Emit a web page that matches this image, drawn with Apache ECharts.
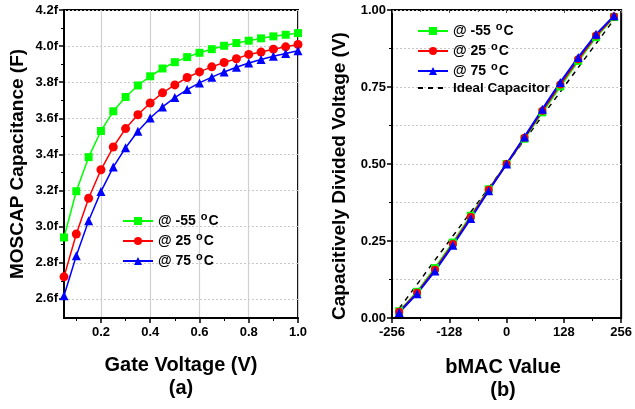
<!DOCTYPE html>
<html>
<head>
<meta charset="utf-8">
<script src="https://cdn.jsdelivr.net/npm/echarts@6/dist/echarts.min.js"></script>
<style>html,body{margin:0;padding:0;background:#fff;}#c{width:635px;height:409px;}</style>
</head>
<body>
<div id="c"></div>
<script>
// ---- Data: panel (a) MOSCAP capacitance vs gate voltage ----
const gateV = [0.05,0.10,0.15,0.20,0.25,0.30,0.35,0.40,0.45,0.50,0.55,0.60,0.65,0.70,0.75,0.80,0.85,0.90,0.95,1.00];
const capM55 = [2.94,3.196,3.385,3.530,3.639,3.718,3.782,3.833,3.876,3.911,3.939,3.963,3.983,4.002,4.017,4.030,4.043,4.054,4.063,4.072];
const cap25  = [2.722,2.959,3.157,3.315,3.441,3.543,3.620,3.685,3.741,3.785,3.826,3.857,3.885,3.909,3.930,3.954,3.967,3.983,3.996,4.009];
const cap75  = [2.617,2.839,3.033,3.194,3.330,3.437,3.528,3.602,3.663,3.715,3.759,3.796,3.828,3.857,3.883,3.906,3.926,3.944,3.959,3.974];
const capTicks = [2.6,2.8,3.0,3.2,3.4,3.6,3.8,4.0,4.2];
const capMinor = [2.7,2.9,3.1,3.3,3.5,3.7,3.9,4.1];
const gateTicks = [0.2,0.4,0.6,0.8,1.0];
const gateMinor = [0.1,0.3,0.5,0.7,0.9];

// ---- Data: panel (b) capacitively divided voltage vs bMAC value ----
const bmac   = [-240,-200,-160,-120,-80,-40,0,40,80,120,160,200,240];
const volM55 = [0.022,0.085,0.162,0.245,0.332,0.418,0.500,0.582,0.668,0.752,0.835,0.912,0.977];
const vol25  = [0.020,0.082,0.157,0.240,0.328,0.416,0.500,0.585,0.673,0.758,0.840,0.917,0.979];
const vol75  = [0.018,0.079,0.153,0.236,0.323,0.413,0.500,0.588,0.678,0.765,0.846,0.921,0.981];
const volIdeal = [0.031,0.109,0.188,0.266,0.344,0.422,0.500,0.578,0.656,0.734,0.813,0.891,0.969];

const legendNames = {
  aM55: '{t|@ -55 }{s|o}{t|C}', a25: '{t|@ 25 }{s|o}{t|C}', a75: '{t|@ 75 }{s|o}{t|C}',
  bM55: '{t|@ -55 }{s|o}{t|C}', b25: '{t|@ 25 }{s|o}{t|C}', b75: '{t|@ 75 }{s|o}{t|C}',
  bIdeal: '{u|Ideal Capacitor}'
};

const FONT = 'Liberation Sans, Arial, sans-serif';
const GREEN = '#00ff00', RED = '#ff0000', BLUE = '#0000ff';

function pair(xs, ys){ return xs.map((x,i)=>[x, ys[i]]); }

const labelStyle = { color:'#000', fontFamily: FONT, fontWeight:'bold', fontSize:13 };
const legendText = { color:'#000', fontFamily: FONT, fontWeight:'bold', fontSize:14,
  rich: {
    t: { fontFamily: FONT, fontWeight:'bold', fontSize:14, lineHeight:20, color:'#000' },
    s: { fontFamily: FONT, fontWeight:'bold', fontSize:11, lineHeight:4, verticalAlign:'top', color:'#000', padding:[0,1,0,1] },
    u: { fontFamily: FONT, fontWeight:'bold', fontSize:13.5, lineHeight:14, color:'#000' }
  } };

const chart = echarts.init(document.getElementById('c'), null, {renderer:'canvas'});

const option = {
  animation: false,
  backgroundColor: '#fff',
  grid: [
    { left: 64, top: 10, width: 234, height: 308, show: true, borderColor: '#000', borderWidth: 2, backgroundColor: 'transparent' },
    { left: 392, top: 10, width: 232, height: 308, show: true, borderColor: '#000', borderWidth: 2, backgroundColor: 'transparent' }
  ],
  xAxis: [
    { // (a) bottom, major
      type:'value', gridIndex:0, min:0.05, max:1.0, position:'bottom',
      axisLine:{ show:true, onZero:false, lineStyle:{ color:'#000', width:2 } },
      axisTick:{ show:true, length:5, lineStyle:{ color:'#000', width:1.5 }, customValues: gateTicks },
      axisLabel:{ ...labelStyle, margin:8, customValues: gateTicks, formatter: v => v.toFixed(1) },
      splitLine:{ show:true, lineStyle:{ color:'#d0d0d0', width:1.2, type:'solid' } }
    },
    { // (a) bottom, minor ticks
      type:'value', gridIndex:0, min:0.05, max:1.0, position:'bottom',
      axisLine:{ show:false, onZero:false },
      axisTick:{ show:true, length:3, lineStyle:{ color:'#000', width:1 }, customValues: gateMinor },
      axisLabel:{ show:false }, splitLine:{ show:false }
    },
    { // (b) bottom
      type:'value', gridIndex:1, min:-256, max:256, interval:128, position:'bottom',
      axisLine:{ show:true, onZero:false, lineStyle:{ color:'#000', width:2 } },
      axisTick:{ show:true, length:5, lineStyle:{ color:'#000', width:1.5 } },
      minorTick:{ show:true, splitNumber:2, length:3, lineStyle:{ color:'#000', width:1 } },
      axisLabel:{ ...labelStyle, margin:8, showMinLabel:true, showMaxLabel:true },
      splitLine:{ show:false }
    },
    { // (b) top mirror ticks
      type:'value', gridIndex:1, min:-256, max:256, interval:128, position:'top',
      axisLine:{ show:false, onZero:false },
      axisTick:{ show:true, inside:true, length:3, lineStyle:{ color:'#555', width:1 } },
      minorTick:{ show:true, splitNumber:2, length:2, lineStyle:{ color:'#555', width:1 } },
      axisLabel:{ show:false }, splitLine:{ show:false }
    }
  ],
  yAxis: [
    { // (a) left major
      type:'value', gridIndex:0, min:2.494, max:4.2, position:'left',
      axisLine:{ show:true, onZero:false, lineStyle:{ color:'#000', width:2 } },
      axisTick:{ show:true, length:5, lineStyle:{ color:'#000', width:1.5 }, customValues: capTicks },
      axisLabel:{ ...labelStyle, margin:6, customValues: capTicks, formatter: v => v.toFixed(1) + 'f' },
      splitLine:{ show:true, lineStyle:{ color:'#c8c8c8', width:1, type:[2,2] } }
    },
    { // (a) left minor
      type:'value', gridIndex:0, min:2.494, max:4.2, position:'left',
      axisLine:{ show:false, onZero:false },
      axisTick:{ show:true, length:3, lineStyle:{ color:'#000', width:1 }, customValues: capMinor },
      axisLabel:{ show:false }, splitLine:{ show:false }
    },
    { // (b) left
      type:'value', gridIndex:1, min:0, max:1, interval:0.25, position:'left',
      axisLine:{ show:true, onZero:false, lineStyle:{ color:'#000', width:2 } },
      axisTick:{ show:true, length:5, lineStyle:{ color:'#000', width:1.5 } },
      minorTick:{ show:true, splitNumber:2, length:3, lineStyle:{ color:'#000', width:1 } },
      axisLabel:{ ...labelStyle, margin:6, formatter: v => v.toFixed(2) },
      splitLine:{ show:true, lineStyle:{ color:'#c8c8c8', width:1, type:[2,2] } },
      minorSplitLine:{ show:true, lineStyle:{ color:'#c8c8c8', width:1, type:[2,2] } }
    }
  ],
  legend: [
    {
      left: 122, top: 211, padding: 0, orient:'vertical', itemGap: 3, itemWidth: 30, itemHeight: 10,
      data: ['aM55','a25','a75'], formatter: n => legendNames[n], textStyle: legendText
    },
    {
      left: 417, top: 21, padding: 0, orient:'vertical', itemGap: 3, itemWidth: 30, itemHeight: 10,
      data: ['bM55','b25','b75', { name:'bIdeal', itemStyle:{ opacity:0 } }],
      formatter: n => legendNames[n], textStyle: legendText
    }
  ],
  graphic: [
    { type:'text', x:18, y:164, rotation: Math.PI/2, style:{ text:'MOSCAP Capacitance (F)', font:'bold 19px ' + FONT, fill:'#000', textAlign:'center', textVerticalAlign:'middle' } },
    { type:'text', x:181, y:365, style:{ text:'Gate Voltage (V)', font:'bold 20px ' + FONT, fill:'#000', textAlign:'center', textVerticalAlign:'middle' } },
    { type:'text', x:181, y:388, style:{ text:'(a)', font:'bold 20px ' + FONT, fill:'#000', textAlign:'center', textVerticalAlign:'middle' } },
    { type:'text', x:340, y:176, rotation: Math.PI/2, style:{ text:'Capacitively Divided Voltage (V)', font:'bold 19px ' + FONT, fill:'#000', textAlign:'center', textVerticalAlign:'middle' } },
    { type:'text', x:503, y:367, style:{ text:'bMAC Value', font:'bold 20px ' + FONT, fill:'#000', textAlign:'center', textVerticalAlign:'middle' } },
    { type:'text', x:503, y:390, style:{ text:'(b)', font:'bold 20px ' + FONT, fill:'#000', textAlign:'center', textVerticalAlign:'middle' } }
  ],
  series: [
    { name:'aM55', type:'line', xAxisIndex:0, yAxisIndex:0, data: pair(gateV, capM55), symbol:'rect', symbolSize:8,
      itemStyle:{ color:GREEN }, lineStyle:{ color:GREEN, width:1.5 } },
    { name:'a25', type:'line', xAxisIndex:0, yAxisIndex:0, data: pair(gateV, cap25), symbol:'circle', symbolSize:9,
      itemStyle:{ color:RED }, lineStyle:{ color:RED, width:1.5 } },
    { name:'a75', type:'line', xAxisIndex:0, yAxisIndex:0, data: pair(gateV, cap75), symbol:'triangle', symbolSize:9,
      itemStyle:{ color:BLUE }, lineStyle:{ color:BLUE, width:1.5 } },
    { name:'bIdeal', type:'line', xAxisIndex:2, yAxisIndex:2, data: pair(bmac, volIdeal), symbol:'none', z:1,
      itemStyle:{ color:'#000' }, lineStyle:{ color:'#000', width:1.5, type:[5,5] } },
    { name:'bM55', type:'line', xAxisIndex:2, yAxisIndex:2, data: pair(bmac, volM55), symbol:'rect', symbolSize:8,
      itemStyle:{ color:GREEN }, lineStyle:{ color:GREEN, width:2 } },
    { name:'b25', type:'line', xAxisIndex:2, yAxisIndex:2, data: pair(bmac, vol25), symbol:'circle', symbolSize:8,
      itemStyle:{ color:RED }, lineStyle:{ color:RED, width:2 } },
    { name:'b75', type:'line', xAxisIndex:2, yAxisIndex:2, data: pair(bmac, vol75), symbol:'triangle', symbolSize:9,
      itemStyle:{ color:BLUE }, lineStyle:{ color:BLUE, width:2 } }
  ]
};
chart.setOption(option);
</script>
</body>
</html>
